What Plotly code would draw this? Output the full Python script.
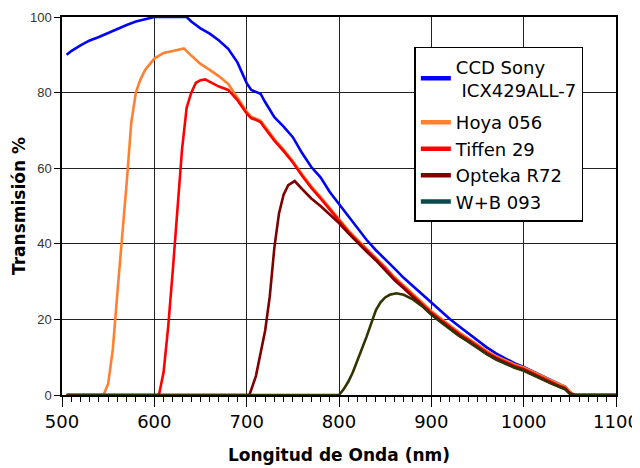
import plotly.graph_objects as go

# ---- data ----
ccd_wl = [505, 510, 520, 530, 540, 550, 560, 570, 580, 590, 600, 610, 620, 635, 640, 650, 660, 670, 680, 690,
          700, 705, 715, 720, 730, 740, 750, 760, 770, 780, 790, 800, 810, 820, 830, 840, 850, 860, 870, 880,
          890, 900, 910, 920, 930, 940, 950, 960, 970, 980, 990, 1000, 1010, 1020, 1030, 1040, 1045, 1050, 1055, 1100]
ccd_t = [90, 91, 92.5, 93.8, 94.7, 95.8, 96.8, 97.9, 98.8, 99.5, 100, 100, 100, 100, 98.8, 97, 95.6, 93.8, 91.6, 88,
         82.5, 80.7, 79.7, 77.5, 73.5, 71, 68.2, 64, 60.3, 57.6, 53.7, 50.5, 47.3, 44.2, 41, 38.3, 36, 33.5, 31, 28.8,
         26.5, 24.4, 22.2, 20.1, 18.2, 16.3, 14.4, 12.6, 11, 9.6, 8.4, 7.4, 6.2, 4.9, 3.8, 2.7, 2.2, 0.8, 0, 0]

hoya_wl = [505, 545, 550, 555, 560, 565, 570, 575, 580, 585, 590, 600, 610, 620, 632, 640, 650, 660, 670, 680,
           690, 700, 705, 710, 715, 720, 730, 740, 750, 760, 770, 780, 790, 800, 810, 820, 830, 840, 850, 860,
           870, 880, 890, 900, 910, 920, 930, 940, 950, 960, 970, 980, 990, 1000, 1010, 1020, 1030, 1040, 1045, 1050, 1055, 1100]
hoya_t = [0, 0, 3, 12, 27, 41, 56, 72, 80, 83.5, 86, 89, 90.5, 91, 91.7, 89.8, 87.6, 86, 84.3, 82.3,
          78.8, 75, 73.6, 73.2, 72.6, 71, 67.7, 64.9, 61.9, 58.4, 55.2, 52.4, 49.4, 46.4, 43.6, 41.1, 38.7, 36.4, 33.9, 31.2,
          29, 26.7, 24.5, 22.2, 20.3, 18.4, 16.6, 15, 13.3, 11.7, 10.3, 9.2, 8.1, 7.3, 6.1, 4.9, 3.8, 2.7, 2.2, 0.9, 0, 0]

tiffen_wl = [505, 605, 610, 615, 620, 625, 630, 635, 640, 645, 650, 655, 660, 670, 680, 690, 700, 705, 710, 715,
             720, 730, 740, 750, 760, 770, 780, 790, 800, 810, 820, 830, 840, 850, 860, 870, 880, 890, 900, 910,
             920, 930, 940, 950, 960, 970, 980, 990, 1000, 1010, 1020, 1030, 1040, 1045, 1050, 1055, 1100]
tiffen_t = [0, 0, 6, 18, 33, 48, 65, 76, 80, 82.6, 83.3, 83.5, 82.8, 81.6, 80.7, 78, 74.5, 73.2, 72.8, 72.2,
            70.5, 67.3, 64.5, 61.5, 58, 54.8, 52, 49, 46, 43.2, 40.7, 38.3, 36, 33.5, 30.8, 28.6, 26.3, 24.1, 21.8, 19.9,
            18, 16.2, 14.6, 12.9, 11.3, 9.9, 8.8, 7.7, 6.9, 5.7, 4.5, 3.4, 2.3, 1.8, 0.5, 0, 0]

opteka_wl = [505, 703, 710, 715, 720, 725, 730, 735, 740, 745, 752, 760, 770, 780, 790, 800, 810, 820, 830, 840,
             850, 860, 870, 880, 890, 900, 910, 920, 930, 940, 950, 960, 970, 980, 990, 1000, 1010, 1020, 1030, 1040,
             1045, 1050, 1055, 1100]
opteka_t = [0, 0, 5, 11, 17, 26, 39, 48, 53, 55.5, 56.6, 54.5, 52, 50, 47.8, 45.5, 42.8, 40.3, 37.9, 35.6,
            33.1, 30.4, 28.2, 25.9, 23.7, 21.4, 19.5, 17.6, 15.8, 14.2, 12.5, 10.9, 9.6, 8.5, 7.4, 6.6, 5.4, 4.2, 3.1, 2.1,
            1.6, 0.4, 0, 0]

wb_wl = [505, 800, 805, 810, 815, 820, 825, 830, 835, 840, 845, 850, 855, 862, 870, 880, 890, 900, 910, 920,
         930, 940, 950, 960, 970, 980, 990, 1000, 1010, 1020, 1030, 1040, 1045, 1050, 1055, 1100]
wb_t = [0, 0, 1.5, 3.5, 6, 9, 12, 15.5, 19, 22.5, 24.5, 25.8, 26.5, 26.9, 26.5, 25.3, 23.5, 21.2, 19.3, 17.4,
        15.6, 14.1, 12.4, 10.8, 9.4, 8.3, 7.2, 6.4, 5.2, 4.1, 3, 2, 1.5, 0.3, 0, 0]

names = ["CCD Sony<br> ICX429ALL-7", "Hoya 056", "Tiffen 29", "Opteka R72", "W+B 093"]
colors = ["#0000ff", "#ff8030", "#ff0000", "#800000", "#333300"]
legend_colors = ["#0000ff", "#ff8030", "#ff0000", "#800000", "#0a4a4a"]
legend_groups = ["a", "b", "b", "b", "b"]

series = [(ccd_wl, ccd_t), (hoya_wl, hoya_t), (tiffen_wl, tiffen_t), (opteka_wl, opteka_t), (wb_wl, wb_t)]

fig = go.Figure()
for (wl, t), c in zip(series, colors):
    fig.add_trace(go.Scatter(x=wl, y=t, mode="lines", line=dict(color=c, width=2.6),
                             showlegend=False, hoverinfo="skip"))
for n, c, g in zip(names, legend_colors, legend_groups):
    fig.add_trace(go.Scatter(x=[None], y=[None], mode="lines", name=n, legendgroup=g,
                             line=dict(color=c, width=4.5)))

comic = "DejaVu Sans"
fig.update_layout(
    width=632, height=460,
    margin=dict(l=54, r=24, t=9, b=73, autoexpand=False),
    paper_bgcolor="white", plot_bgcolor="white",
    showlegend=True,
    legend=dict(x=0.636, y=0.921, xanchor="left", yanchor="top",
                bgcolor="white", bordercolor="black", borderwidth=1.5,
                font=dict(family=comic, size=18, color="black"),
                tracegroupgap=6, itemwidth=30, entrywidth=152, groupclick="toggleitem"),
    xaxis=dict(range=[500, 1100], tickmode="linear", tick0=500, dtick=100, automargin=False,
               showgrid=True, gridcolor="#222222", gridwidth=1,
               showline=True, linecolor="black", linewidth=1.5, mirror=True,
               ticks="outside", ticklen=10, tickcolor="black", tickwidth=1,
               minor=dict(dtick=10, ticks="outside", ticklen=5, tickcolor="black", showgrid=False),
               tickfont=dict(family=comic, size=18, color="black"),
               title=dict(text="<b>Longitud de Onda (nm)</b>", font=dict(family=comic, size=17, color="black"),
                          standoff=18),
               zeroline=False),
    yaxis=dict(range=[0, 100], tickmode="linear", tick0=0, dtick=20, automargin=False,
               showgrid=True, gridcolor="#222222", gridwidth=1,
               showline=True, linecolor="black", linewidth=1.5, mirror=True,
               ticks="outside", ticklen=6, tickcolor="black", tickwidth=1,
               tickfont=dict(family="Liberation Sans", size=13, color="#333333"),
               title=dict(text="<b>Transmisión %</b>", font=dict(family=comic, size=17, color="black"),
                          standoff=0),
               zeroline=False),
)

fig.write_html("out.html")
